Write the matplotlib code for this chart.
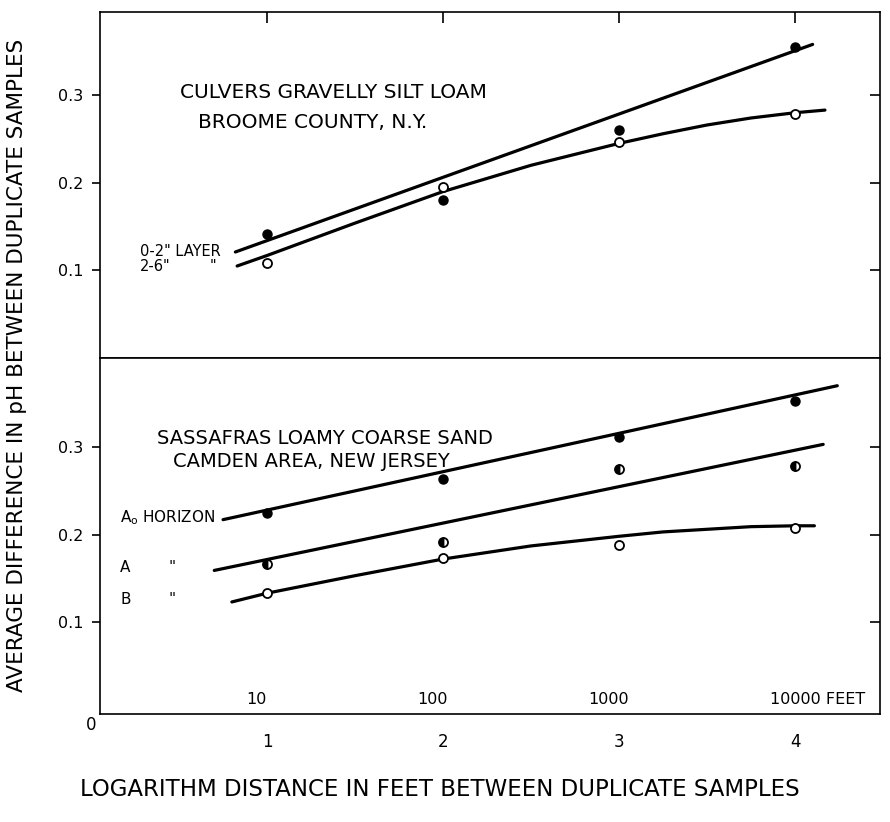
import matplotlib
matplotlib.use("Agg")
import matplotlib.pyplot as plt

# log10 distance (feet) at which duplicate samples were taken
log_dist = [1, 2, 3, 4]

# top panel: Culvers gravelly silt loam, Broome County, N.Y.
culvers_0_2 = [0.141, 0.180, 0.260, 0.355]
culvers_2_6 = [0.109, 0.195, 0.247, 0.278]
# hand-drawn fit lines
culvers_0_2_fit_x = [0.82, 4.10]
culvers_0_2_fit_y = [0.121, 0.358]
culvers_2_6_fit_x = [0.83, 1.0, 1.5, 2.0, 2.5, 3.0, 3.25, 3.5, 3.75, 4.0, 4.17]
culvers_2_6_fit_y = [0.105, 0.117, 0.154, 0.190, 0.220, 0.245, 0.256, 0.266, 0.274, 0.280, 0.283]

# bottom panel: Sassafras loamy coarse sand, Camden area, New Jersey
sass_a0 = [0.225, 0.263, 0.312, 0.352]
sass_a = [0.166, 0.192, 0.275, 0.278]
sass_b = [0.133, 0.173, 0.188, 0.207]
sass_a0_fit_x = [0.75, 4.24]
sass_a0_fit_y = [0.217, 0.370]
sass_a_fit_x = [0.70, 4.16]
sass_a_fit_y = [0.159, 0.303]
sass_b_fit_x = [0.80, 1.0, 1.5, 2.0, 2.5, 3.0, 3.25, 3.5, 3.75, 4.0, 4.11]
sass_b_fit_y = [0.123, 0.133, 0.153, 0.172, 0.187, 0.198, 0.203, 0.206, 0.209, 0.210, 0.210]

y_ticks = [0.1, 0.2, 0.3]
x_ticks = [1, 2, 3, 4]
feet_labels = ["10", "100", "1000", "10000 FEET"]

plt.rcParams['font.family'] = ['DejaVu Sans']

fig = plt.figure(figsize=(8.9, 8.22), dpi=100)
ax1 = fig.add_axes([0.1124, 0.5645, 0.8764, 0.4209])
ax2 = fig.add_axes([0.1124, 0.1314, 0.8764, 0.4331])

lw = 2.3
for ax in (ax1, ax2):
    ax.set_xlim(0.051, 4.483)
    for s in ax.spines.values():
        s.set_linewidth(1.2)
    ax.set_yticks(y_ticks)
    ax.set_yticklabels([f"{v:.1f}" for v in y_ticks], fontsize=11.5)
    ax.tick_params(axis='y', direction='out', length=6, width=1.2, pad=6)
    # short inward marks on the right border
    ax_r = ax.secondary_yaxis('right')
    ax_r.set_yticks(y_ticks)
    ax_r.set_yticklabels([])
    ax_r.tick_params(direction='in', length=7, width=1.2)
    ax_r.spines['right'].set_visible(False)

ax1.set_ylim(0, 0.395)
ax2.set_ylim(-0.005, 0.4017)

# top panel
ax1.set_xticks(x_ticks)
ax1.set_xticklabels([])
ax1.tick_params(axis='x', direction='in', length=0)
ax_t = ax1.secondary_xaxis('top')
ax_t.set_xticks(x_ticks)
ax_t.set_xticklabels([])
ax_t.tick_params(direction='in', length=8, width=1.2)
ax_t.spines['top'].set_visible(False)

ax1.plot(culvers_0_2_fit_x, culvers_0_2_fit_y, color='black', lw=lw, solid_capstyle='round')
ax1.plot(culvers_2_6_fit_x, culvers_2_6_fit_y, color='black', lw=lw, solid_capstyle='round',
         solid_joinstyle='round')
ax1.plot(log_dist, culvers_0_2, 'o', color='black', ms=6.5, zorder=3)
ax1.plot(log_dist, culvers_2_6, 'o', mfc='white', mec='black', mew=1.3, ms=6.5, zorder=3)

ax1.text(1.38, 0.303, "CULVERS GRAVELLY SILT LOAM", ha='center', va='center', fontsize=14.5)
ax1.text(1.26, 0.269, "BROOME COUNTY, N.Y.", ha='center', va='center', fontsize=14.5)
ax1.text(0.28, 0.121, '0-2" LAYER', ha='left', va='center', fontsize=10.5)
ax1.text(0.28, 0.105, '2-6"', ha='left', va='center', fontsize=10.5)
ax1.text(0.69, 0.105, '"', ha='center', va='center', fontsize=10.5)

# bottom panel
ax2.plot(sass_a0_fit_x, sass_a0_fit_y, color='black', lw=lw, solid_capstyle='round')
ax2.plot(sass_a_fit_x, sass_a_fit_y, color='black', lw=lw, solid_capstyle='round')
ax2.plot(sass_b_fit_x, sass_b_fit_y, color='black', lw=lw, solid_capstyle='round',
         solid_joinstyle='round')
ax2.plot(log_dist, sass_a0, 'o', color='black', ms=6.5, zorder=3)
ax2.plot(log_dist, sass_a, 'o', mfc='black', mfcalt='white', fillstyle='left',
         mec='black', mew=1.3, ms=6.5, zorder=3)
ax2.plot(log_dist, sass_b, 'o', mfc='white', mec='black', mew=1.3, ms=6.5, zorder=3)

ax2.text(1.33, 0.310, "SASSAFRAS LOAMY COARSE SAND", ha='center', va='center', fontsize=14)
ax2.text(1.25, 0.284, "CAMDEN AREA, NEW JERSEY", ha='center', va='center', fontsize=14)
ax2.text(0.165, 0.219, "A$_{\\mathrm{o}}$ HORIZON", ha='left', va='center', fontsize=11)
ax2.text(0.165, 0.162, "A", ha='left', va='center', fontsize=11)
ax2.text(0.46, 0.162, '"', ha='center', va='center', fontsize=11)
ax2.text(0.165, 0.126, "B", ha='left', va='center', fontsize=11)
ax2.text(0.46, 0.126, '"', ha='center', va='center', fontsize=11)

ax2.set_xticks(x_ticks)
ax2.set_xticklabels([str(v) for v in x_ticks], fontsize=12)
ax2.tick_params(axis='x', length=0, pad=14)
for x, lab in zip(x_ticks, feet_labels):
    if lab.endswith("FEET"):
        ax2.text(x - 0.14, 0.003, lab, ha='left', va='bottom', fontsize=11.5)
    else:
        ax2.text(x - 0.06, 0.003, lab, ha='center', va='bottom', fontsize=11.5)
ax2.text(0.0, -0.007, "0", ha='center', va='top', fontsize=12, clip_on=False)

fig.text(0.494, 0.039, "LOGARITHM DISTANCE IN FEET BETWEEN DUPLICATE SAMPLES",
         ha='center', va='center', fontsize=16.5)
fig.text(0.019, 0.556, "AVERAGE DIFFERENCE IN pH BETWEEN DUPLICATE SAMPLES",
         ha='center', va='center', rotation=90, fontsize=15.5)

fig.savefig("out.png", dpi=100)
